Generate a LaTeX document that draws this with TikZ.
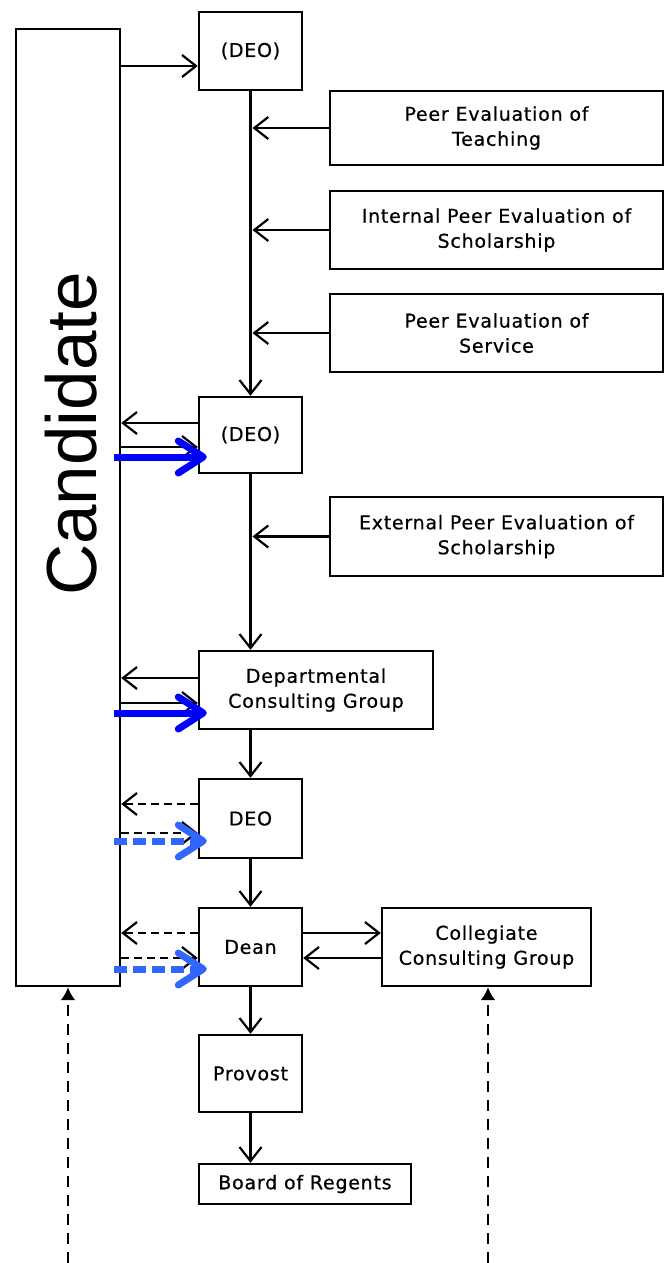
\documentclass[tikz,border=0pt]{standalone}
\usepackage{fontspec}
\setmainfont{DejaVu Sans}
\newfontfamily\bigsans{Liberation Sans}
\usetikzlibrary{arrows.meta,calc}

\definecolor{strongblue}{RGB}{0,0,255}
\definecolor{softblue}{RGB}{51,102,255}

\tikzset{
  box/.style={draw, line width=2.4pt, inner sep=0pt, align=center,
    font=\addfontfeatures{LetterSpace=4,FakeBold=0.6}\fontsize{19}{25}\selectfont},
  flow/.style={line width=2.2pt, -{Straight Barb[length=14pt,width=22pt]}},
  dflow/.style={flow, dash pattern=on 8pt off 5pt},
  bluearr/.style={line width=7pt, strongblue,
    -{Straight Barb[length=25pt,width=32pt,round]}},
  bluedash/.style={bluearr, softblue, dash pattern=on 13pt off 6pt},
  rise/.style={line width=2.6pt, dash pattern=on 11pt off 8pt,
    -{Latex[length=13pt,width=15pt]}}
}

\begin{document}
\begin{tikzpicture}[x=1pt,y=-1pt]
\useasboundingbox (0,0) rectangle (664,1263);

% candidate column
\node[box, minimum width=104pt, minimum height=957pt] (cand) at (68,507.5) {};
\node[rotate=90, font=\bigsans\fontsize{71}{71}\selectfont] (candtxt) at (71,434) {Candidate};

% main chain
\node[box, minimum width=103pt, minimum height=78pt] (deo1) at (250.5,51) {(DEO)};
\node[box, minimum width=103pt, minimum height=76pt] (deo2) at (250.5,435) {(DEO)};
\node[box, minimum width=234pt, minimum height=78pt] (dcg) at (316,690) {Departmental\\Consulting Group};
\node[box, minimum width=103pt, minimum height=79pt] (deo3) at (250.5,818.5) {DEO};
\node[box, minimum width=103pt, minimum height=78pt] (dean) at (250.5,947) {Dean};
\node[box, minimum width=103pt, minimum height=77pt] (prov) at (250.5,1073.5) {Provost};
\node[box, minimum width=212pt, minimum height=40pt] (bor) at (305,1184) {Board of Regents};

% evaluation inputs
\node[box, minimum width=333pt, minimum height=74pt] (pt) at (496.5,128) {Peer Evaluation of\\Teaching};
\node[box, minimum width=333pt, minimum height=78pt] (ips) at (496.5,230) {Internal Peer Evaluation of\\Scholarship};
\node[box, minimum width=333pt, minimum height=78pt] (ps) at (496.5,333) {Peer Evaluation of\\Service};
\node[box, minimum width=333pt, minimum height=79pt] (eps) at (496.5,536.5) {External Peer Evaluation of\\Scholarship};
\node[box, minimum width=209pt, minimum height=78pt] (ccg) at (486.5,947) {Collegiate\\Consulting Group};

% vertical flow
\draw[flow] (deo1.south) -- (deo2.north);
\draw[flow] (deo2.south) -- (dcg.north -| deo2.south);
\draw[flow] (dcg.south -| deo2.south) -- (deo3.north);
\draw[flow] (deo3.south) -- (dean.north);
\draw[flow] (dean.south) -- (prov.north);
\draw[flow] (prov.south) -- (bor.north -| prov.south);

% evaluations feeding the trunk
\draw[flow] (pt.west) -- ([xshift=2pt]pt.west -| deo1.south);
\draw[flow] (ips.west) -- ([xshift=2pt]ips.west -| deo1.south);
\draw[flow] (ps.west) -- ([xshift=2pt]ps.west -| deo1.south);
\draw[flow] (eps.west) -- ([xshift=2pt]eps.west -| deo2.south);

% candidate exchanges
\coordinate (d1in) at ([yshift=-15pt]deo1.west);
\draw[flow] (d1in -| cand.east) -- (d1in);

\coordinate (d2out) at ([yshift=12pt]deo2.west);
\coordinate (d2in) at ([yshift=-12pt]deo2.west);
\coordinate (d2blue) at ([shift={(9pt,-22pt)}]deo2.west);
\draw[flow] (d2out) -- (d2out -| cand.east);
\draw[flow] (d2in -| cand.east) -- (d2in);
\draw[bluearr] ($(d2blue -| cand.east)+(-7pt,0)$) -- (d2blue);

\coordinate (dcgout) at ([yshift=12pt]dcg.west);
\coordinate (dcgin) at ([yshift=-13pt]dcg.west);
\coordinate (dcgblue) at ([shift={(9pt,-23pt)}]dcg.west);
\draw[flow] (dcgout) -- (dcgout -| cand.east);
\draw[flow] (dcgin -| cand.east) -- (dcgin);
\draw[bluearr] ($(dcgblue -| cand.east)+(-7pt,0)$) -- (dcgblue);

\coordinate (d3out) at ([yshift=14.5pt]deo3.west);
\coordinate (d3in) at ([yshift=-14.5pt]deo3.west);
\coordinate (d3blue) at ([shift={(9pt,-22.5pt)}]deo3.west);
\draw[dflow] (d3out) -- (d3out -| cand.east);
\draw[dflow] (d3in -| cand.east) -- (d3in);
\draw[bluedash] ($(d3blue -| cand.east)+(-7pt,0)$) -- (d3blue);

\coordinate (dnout) at ([yshift=14pt]dean.west);
\coordinate (dnin) at ([yshift=-11pt]dean.west);
\coordinate (dnblue) at ([shift={(9pt,-22pt)}]dean.west);
\draw[dflow] (dnout) -- (dnout -| cand.east);
\draw[dflow] (dnin -| cand.east) -- (dnin);
\draw[bluedash] ($(dnblue -| cand.east)+(-7pt,0)$) -- (dnblue);

% dean and collegiate group
\coordinate (dc1) at ([yshift=14pt]dean.east);
\coordinate (dc2) at ([yshift=-11pt]dean.east);
\draw[flow] (dc1) -- (dc1 -| ccg.west);
\draw[flow] (dc2 -| ccg.west) -- (dc2);

% inputs from below
\coordinate (candfoot) at (cand.south |- 0,1263);
\coordinate (ccgfoot) at ([xshift=1.5pt]ccg.south |- 0,1263);
\draw[rise] (candfoot) -- (cand.south);
\draw[rise] (ccgfoot) -- ([xshift=1.5pt]ccg.south);
\end{tikzpicture}
\end{document}
